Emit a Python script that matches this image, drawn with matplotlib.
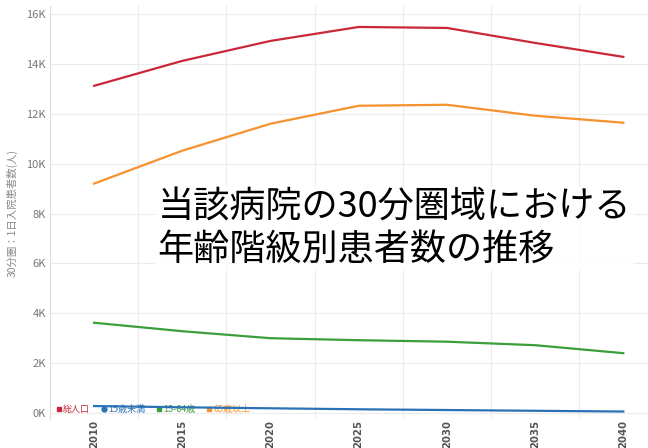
import matplotlib.pyplot as plt
from matplotlib.lines import Line2D

plt.rcParams['font.family'] = ['Noto Sans CJK JP', 'DejaVu Sans']

years = [2010, 2015, 2020, 2025, 2030, 2035, 2040]
total = [13120, 14120, 14920, 15480, 15440, 14840, 14280]
under15 = [280, 230, 190, 150, 120, 90, 60]
age15_64 = [3620, 3280, 3000, 2920, 2860, 2720, 2400]
over65 = [9200, 10520, 11600, 12320, 12360, 11920, 11640]

names = ['総人口', '15歳未満', '15-64歳', '65歳以上']
colors = ['#c8283a', '#2a72b5', '#3a9e3a', '#f5922e']
yticks = [0, 2000, 4000, 6000, 8000, 10000, 12000, 14000, 16000]
ylabels = ['0K', '2K', '4K', '6K', '8K', '10K', '12K', '14K', '16K']
title = '当該病院の30分圏域における\n年齢階級別患者数の推移'

fig = plt.figure(figsize=(6.48, 4.48), dpi=100)
ax = fig.add_axes([0.0772, 0.0647, 0.9228, 0.9208])

series = [total, under15, age15_64, over65]
for s, c in zip(series, colors):
    ax.plot(years, s, color=c, lw=1.6, zorder=3)

ax.set_xlim(2007.5, 2041.4)
ax.set_ylim(-240, 16300)
ax.set_yticks(yticks)
ax.set_yticklabels(ylabels, fontsize=8, color='#777777')
ax.set_xticks(years)
ax.set_xticklabels([str(y) for y in years], rotation=90, fontsize=7.3,
                   fontweight='bold', color='#555555', family='DejaVu Sans')
ax.tick_params(axis='y', length=0, pad=3)
ax.tick_params(axis='x', length=0, pad=0.5)

# gridlines between the year labels
ax.set_xticks([2012.5 + 5 * i for i in range(6)], minor=True)
ax.tick_params(which='minor', length=0)
ax.grid(axis='y', color='#ececec', lw=0.8)
ax.grid(axis='x', which='minor', color='#ececec', lw=0.8)
ax.set_axisbelow(True)
for sp in ['top', 'right', 'bottom']:
    ax.spines[sp].set_visible(False)
ax.spines['left'].set_color('#dddddd')

ax.set_ylabel('30分圏：1日入院患者数(人)', fontsize=7.5, color='#888888', labelpad=6)

markers = ['s', 'o', 's', 's']
handles = [Line2D([], [], marker=m, color=c, ls='none', markersize=3.5)
           for m, c in zip(markers, colors)]
leg = ax.legend(handles, names, loc='lower left', bbox_to_anchor=(0.0, 0.0),
                ncol=4, frameon=False, fontsize=6.5, handletextpad=0.1,
                handlelength=0.8, columnspacing=1.1, borderaxespad=0.15,
                labelcolor=colors)
leg.set_zorder(1)

fig.text(0.243, 0.49, title, fontsize=26, color='black', linespacing=1.22,
         va='center', ha='left',
         bbox=dict(facecolor='white', alpha=0.85, edgecolor='none', pad=2))

fig.savefig('out.png', dpi=100)
